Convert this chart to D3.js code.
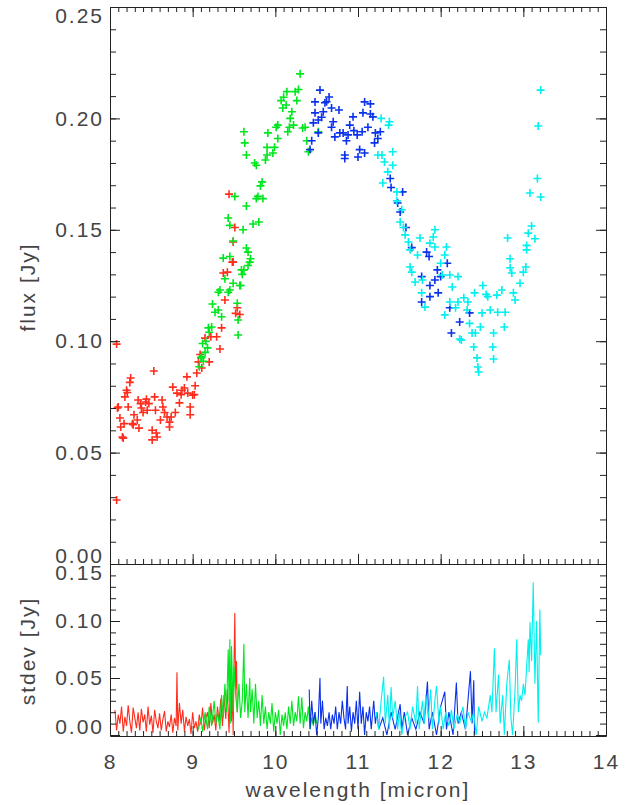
<!DOCTYPE html>
<html>
<head>
<meta charset="utf-8">
<script src="https://cdn.jsdelivr.net/npm/d3@7"></script>
<style>
  body { margin: 0; background: #fff; }
  text { font-family: "Liberation Sans", "DejaVu Sans", sans-serif; fill: #444; }
</style>
</head>
<body>
<div id="chart"></div>
<script>
// flux points, one pair of arrays per colour band
var redWave = [8.08,8.08,8.10,8.09,8.12,8.13,8.15,8.16,8.17,8.20,8.21,8.18,8.22,8.25,8.24,8.27,8.29,8.28,8.34,8.33,
  8.35,8.37,8.38,8.40,8.43,8.45,8.47,8.44,8.51,8.51,8.53,8.54,8.55,8.56,8.57,8.61,8.63,8.64,8.66,8.69,
  8.72,8.72,8.74,8.76,8.79,8.81,8.84,8.86,8.87,8.90,8.93,8.94,8.97,8.97,9.00,9.02,9.03,9.05,9.07,9.09,
  9.11,9.15,9.20,9.22,9.29,9.35,9.37,9.39,9.42,9.44,9.48,9.49,9.49,9.51,9.54,9.57,9.52,9.33];
var redFlux = [0.0987,0.0287,0.0705,0.070,0.0655,0.0615,0.057,0.0565,0.063,0.078,0.077,0.075,0.0705,0.0835,0.0815,0.063,0.067,0.0625,0.0736,0.0646,
  0.061,0.072,0.070,0.068,0.0727,0.069,0.072,0.074,0.060,0.0557,0.0866,0.075,0.069,0.0588,0.057,0.0646,0.0736,0.0705,0.068,0.066,
  0.0637,0.0615,0.066,0.0794,0.068,0.0767,0.0723,0.076,0.078,0.079,0.084,0.0767,0.0705,0.067,0.0758,0.076,0.080,0.0857,0.0907,0.094,
  0.088,0.1014,0.0907,0.102,0.102,0.106,0.1306,0.1185,0.131,0.166,0.1355,0.1445,0.1355,0.151,0.115,0.112,0.1125,0.0965];

var greenWave = [9.11,9.15,9.10,9.18,9.12,9.19,9.23,9.27,9.31,9.35,9.24,9.33,9.39,9.45,9.37,9.54,9.55,9.55,9.57,9.59,
  9.67,9.69,9.45,9.31,9.43,9.49,9.58,9.60,9.62,9.67,9.70,9.65,9.49,9.61,9.73,9.80,9.43,9.45,9.65,9.51,
  9.79,9.77,9.85,9.84,9.82,9.62,9.63,9.65,9.75,9.77,9.88,9.90,9.90,9.99,9.97,9.91,10.03,10.01,10.03,10.14,
  10.10,10.07,10.09,10.13,10.30,10.24,10.26,10.20,10.18,10.15,10.17,10.22,10.36,10.33,10.38,10.40,10.52,10.28,9.08,9.13,
  9.16,9.20];
var greenFlux = [0.093,0.095,0.0925,0.097,0.099,0.106,0.1064,0.113,0.114,0.111,0.1167,0.123,0.128,0.138,0.1373,0.117,0.1095,0.1028,0.125,0.132,
  0.140,0.1355,0.123,0.122,0.122,0.126,0.125,0.130,0.132,0.134,0.137,0.1418,0.145,0.150,0.1526,0.1535,0.1553,0.152,0.1607,0.165,
  0.165,0.164,0.164,0.1715,0.1697,0.194,0.189,0.1836,0.180,0.179,0.1813,0.187,0.1836,0.187,0.1845,0.1935,0.197,0.196,0.191,0.212,
  0.2095,0.208,0.2047,0.206,0.220,0.212,0.208,0.203,0.200,0.194,0.196,0.197,0.196,0.1957,0.190,0.185,0.194,0.213,0.0885,0.091,
  0.100,0.104];

var blueWave = [10.54,10.65,10.48,10.60,10.62,10.68,10.77,10.58,10.48,10.52,10.46,10.44,10.42,10.52,10.68,10.72,10.78,10.82,10.88,10.90,
  10.94,10.86,10.99,11.05,11.08,11.15,11.06,11.15,11.12,11.18,11.21,11.27,11.24,11.20,11.02,11.08,10.84,10.84,11.00,10.56,
  10.70,10.95,11.39,11.54,11.51,11.58,11.65,11.86,11.83,11.96,12.08,11.93,11.77,11.87,11.97,11.87,11.77,12.11,12.35,12.23,
  12.13,12.00,11.40,11.48];
var blueFlux = [0.2127,0.2096,0.2074,0.207,0.2075,0.2047,0.2038,0.203,0.2025,0.1993,0.198,0.190,0.186,0.1935,0.196,0.1917,0.1935,0.1935,0.1926,0.197,
  0.2007,0.190,0.1926,0.194,0.2074,0.2065,0.2025,0.202,0.196,0.2007,0.1935,0.194,0.191,0.189,0.186,0.1845,0.1836,0.182,0.1827,0.2005,
  0.1985,0.1945,0.173,0.167,0.158,0.151,0.142,0.138,0.140,0.132,0.135,0.1275,0.129,0.125,0.1217,0.120,0.1176,0.115,0.1127,0.1086,
  0.1037,0.129,0.169,0.162];

var cyanWave = [11.24,11.28,11.37,11.38,11.42,11.29,11.32,11.42,11.36,11.30,11.47,11.47,11.53,11.51,11.55,11.57,11.61,11.63,11.75,11.93,
  11.91,11.87,11.93,12.07,12.05,12.00,11.72,11.63,11.65,11.69,11.78,12.02,12.11,12.21,12.14,11.77,11.81,12.11,12.21,12.33,
  12.18,12.32,12.05,12.35,12.42,12.23,12.40,12.44,12.45,12.46,12.63,12.64,12.64,12.77,12.50,12.60,12.69,12.78,12.51,12.41,
  12.57,12.68,12.74,12.88,12.90,12.96,13.00,12.86,12.84,12.84,13.03,13.04,13.04,13.14,13.06,13.10,12.81,13.08,13.17,13.21,
  13.21,13.18,12.48,12.38,12.25,12.28,12.55];
var cyanFlux = [0.1836,0.200,0.197,0.1985,0.185,0.1836,0.1804,0.179,0.176,0.171,0.167,0.163,0.159,0.1535,0.151,0.1477,0.1445,0.141,0.1463,0.150,
  0.1468,0.144,0.1423,0.1423,0.1387,0.135,0.1387,0.1333,0.131,0.1266,0.1275,0.1297,0.1297,0.129,0.1243,0.1217,0.1153,0.1176,0.1176,0.1176,
  0.115,0.114,0.1118,0.108,0.1037,0.101,0.0974,0.0925,0.0884,0.0862,0.0974,0.092,0.1037,0.1064,0.1127,0.114,0.113,0.113,0.125,0.1217,
  0.120,0.1207,0.123,0.1217,0.1185,0.126,0.131,0.1306,0.133,0.137,0.1333,0.141,0.143,0.146,0.1485,0.1517,0.1463,0.1665,0.173,0.1647,
  0.2127,0.1966,0.1064,0.1037,0.1005,0.1195,0.121];

// stdev traces
var redSdWave = [8.06,8.08,8.10,8.12,8.14,8.16,8.18,8.20,8.22,8.24,8.26,8.28,8.30,8.32,8.34,8.36,8.38,8.40,8.42,8.44,
  8.46,8.48,8.50,8.52,8.54,8.56,8.58,8.60,8.62,8.64,8.66,8.68,8.70,8.72,8.74,8.76,8.78,8.80,8.81,8.82,
  8.84,8.86,8.88,8.90,8.92,8.94,8.96,8.98,9.00,9.02,9.04,9.06,9.08,9.10,9.12,9.14,9.16,9.18,9.20,9.22,
  9.24,9.26,9.28,9.30,9.32,9.34,9.36,9.38,9.40,9.42,9.44,9.45,9.46,9.47,9.48,9.49,9.50,9.51,9.52,9.53,9.54];
var redSdVal = [0.022,0.004,0.018,0.010,0.025,0.003,0.016,0.008,0.026,0.012,0.002,0.024,0.015,0.006,0.020,0.004,0.023,0.011,0.018,0.003,
  0.025,0.009,0.017,0.002,0.022,0.012,0.006,0.019,0.004,0.014,0.021,0.003,0.012,0.007,0.018,0.002,0.015,0.008,0.055,0.004,
  0.028,0.010,0.022,0.003,0.016,0.008,0.014,0.001,0.020,0.006,0.012,0.003,0.018,0.009,0.024,0.004,0.015,0.020,0.006,0.028,
  0.010,0.018,0.004,0.025,0.012,0.032,0.008,0.035,0.014,0.040,0.002,0.030,0.058,0.012,0.045,0.000,0.062,0.107,0.040,0.065,0.020];

var greenSdWave = [9.07,9.10,9.12,9.15,9.18,9.20,9.23,9.26,9.28,9.30,9.33,9.35,9.37,9.39,9.41,9.43,9.44,9.45,9.46,9.47,
  9.49,9.50,9.52,9.54,9.56,9.58,9.60,9.62,9.63,9.65,9.67,9.69,9.70,9.72,9.74,9.76,9.78,9.80,9.82,9.84,
  9.86,9.88,9.90,9.92,9.94,9.96,9.98,10.00,10.02,10.04,10.06,10.08,10.10,10.12,10.14,10.16,10.18,10.20,10.22,10.24,
  10.26,10.28,10.30,10.32,10.34,10.36,10.38,10.40,10.42,10.44,10.46,10.48,10.50];
var greenSdVal = [0.005,0.015,0.003,0.020,0.005,0.025,0.008,0.030,0.010,0.020,0.005,0.035,0.015,0.045,0.020,0.075,0.030,0.084,0.010,0.078,
  0.020,0.060,0.035,0.020,0.045,0.015,0.030,0.080,0.020,0.045,0.015,0.050,0.020,0.040,0.010,0.045,0.015,0.030,0.008,0.035,
  0.010,0.025,0.005,0.020,0.010,0.028,0.003,0.020,0.010,0.022,0.000,0.018,0.008,0.020,0.005,0.025,0.010,0.030,0.008,0.020,
  0.012,0.034,0.010,0.033,0.006,0.020,0.012,0.025,0.005,0.015,0.008,0.020,0.010];

var blueSdWave = [10.41,10.42,10.44,10.46,10.48,10.50,10.52,10.54,10.55,10.57,10.59,10.61,10.63,10.65,10.67,10.69,10.71,10.73,10.75,10.77,
  10.79,10.81,10.83,10.85,10.87,10.88,10.90,10.92,10.94,10.96,10.98,11.00,11.02,11.04,11.06,11.08,11.10,11.12,11.14,11.16,
  11.19,11.21,11.23,11.25,11.30,11.35,11.40,11.45,11.51,11.53,11.56,11.60,11.65,11.70,11.75,11.80,11.84,11.86,11.90,11.95,
  12.00,12.05,12.07,12.10,12.15,12.19,12.21,12.25,12.30,12.33,12.36,12.38,12.40,12.41];
var blueSdVal = [0.040,0.005,0.030,0.010,0.020,0.000,0.015,0.050,0.010,0.030,0.005,0.015,0.008,0.020,0.005,0.018,0.010,0.025,0.005,0.020,
  0.010,0.030,0.015,0.005,0.043,0.010,0.025,0.003,0.020,0.010,0.030,0.005,0.038,0.010,0.025,0.000,0.020,0.012,0.025,0.005,
  0.030,0.010,0.020,0.005,0.015,0.000,0.020,0.005,0.027,0.005,0.020,0.000,0.015,0.005,0.020,0.010,0.047,0.005,0.020,0.000,
  0.025,0.038,0.005,0.020,0.000,0.046,0.010,0.020,0.005,0.030,0.056,0.010,0.048,0.000];

var cyanSdWave = [11.22,11.25,11.28,11.31,11.33,11.36,11.38,11.40,11.42,11.45,11.48,11.50,11.53,11.56,11.60,11.63,11.66,11.70,11.72,11.74,
  11.78,11.80,11.82,11.85,11.88,11.90,11.93,11.95,11.98,12.00,12.03,12.06,12.10,12.13,12.16,12.20,12.23,12.27,12.30,12.33,
  12.37,12.40,12.43,12.46,12.50,12.53,12.56,12.60,12.62,12.65,12.67,12.70,12.72,12.75,12.77,12.80,12.83,12.85,12.87,12.90,
  12.92,12.94,12.96,12.98,13.00,13.02,13.04,13.06,13.07,13.08,13.10,13.12,13.14,13.16,13.18,13.20,13.21];
var cyanSdVal = [0.020,0.005,0.030,0.051,0.010,0.035,0.005,0.042,0.015,0.030,0.005,0.020,0.000,0.015,0.020,0.005,0.025,0.010,0.043,0.005,
  0.030,0.010,0.035,0.015,0.040,0.005,0.030,0.043,0.010,0.025,0.005,0.020,0.008,0.022,0.005,0.018,0.010,0.025,0.005,0.020,
  0.012,0.020,0.000,0.025,0.012,0.020,0.015,0.035,0.020,0.076,0.020,0.053,0.010,0.035,0.000,0.045,0.066,0.015,0.000,0.040,
  0.084,0.020,0.035,0.030,0.045,0.035,0.060,0.084,0.055,0.099,0.065,0.134,0.045,0.100,0.011,0.110,0.070];

var xTicks = [8, 9, 10, 11, 12, 13, 14];
var fluxTicks = [0, 0.05, 0.10, 0.15, 0.20, 0.25];
var sdTicks = [0, 0.05, 0.10, 0.15];

var series = [
  { color: "#ff2d1e", wave: redWave, flux: redFlux, sdWave: redSdWave, sd: redSdVal },
  { color: "#00e61e", wave: greenWave, flux: greenFlux, sdWave: greenSdWave, sd: greenSdVal },
  { color: "#0a32eb", wave: blueWave, flux: blueFlux, sdWave: blueSdWave, sd: blueSdVal },
  { color: "#00f0f0", wave: cyanWave, flux: cyanFlux, sdWave: cyanSdWave, sd: cyanSdVal }
];

var W = 641, H = 805;
var left = 110, right = 606, top1 = 7, bot1 = 564, bot2 = 735;

var x = d3.scaleLinear().domain([8, 14]).range([left, right]);
var yFlux = d3.scaleLinear().domain([0, 0.25]).range([bot1, top1]);
var ySd = d3.scaleLinear().domain([0, 0.15]).range([bot2, bot1]);

var svg = d3.select("#chart").append("svg")
  .attr("width", W)
  .attr("height", H);

svg.append("clipPath").attr("id", "clip-top")
  .append("rect").attr("x", left).attr("y", top1).attr("width", right - left).attr("height", bot1 - top1);
svg.append("clipPath").attr("id", "clip-bot")
  .append("rect").attr("x", left).attr("y", bot1).attr("width", right - left).attr("height", bot2 - bot1 + 1);

// plus markers
var plus = "M-4,0H4M0,-4V4";
series.forEach(function(s){
  svg.append("g")
    .attr("clip-path", "url(#clip-top)")
    .selectAll("path")
    .data(s.wave.map(function(w, i){ return { w: w, f: s.flux[i] }; }))
    .enter().append("path")
      .attr("d", plus)
      .attr("transform", function(d){ return "translate(" + x(d.w) + "," + yFlux(d.f) + ")"; })
      .style("stroke", s.color)
      .style("stroke-width", 1.6)
      .style("fill", "none");
});

// stdev lines
var line = d3.line()
  .x(function(d){ return x(d.w); })
  .y(function(d){ return ySd(d.v); });

series.forEach(function(s){
  svg.append("path")
    .datum(s.sdWave.map(function(w, i){ return { w: w, v: s.sd[i] }; }))
    .attr("clip-path", "url(#clip-bot)")
    .attr("d", line)
    .style("fill", "none")
    .style("stroke", s.color)
    .style("stroke-width", 1.1);
});

// axes, ticks pointing inward like the original
function styleAxis(g){
  g.selectAll("path, line").style("stroke", "#222").style("stroke-width", 1);
  g.selectAll("text")
    .style("font-size", "21px")
    .style("letter-spacing", "2px")
    .style("fill", "#444")
    .style("font-family", "'Liberation Sans', sans-serif");
}

function xAxisAt(y, dir, labels){
  var major = (dir === "up" ? d3.axisBottom(x) : d3.axisTop(x))
    .tickValues(xTicks).tickSizeInner(-10).tickSizeOuter(0).tickPadding(18)
    .tickFormat(labels ? d3.format("d") : "");
  var minor = (dir === "up" ? d3.axisBottom(x) : d3.axisTop(x))
    .tickValues(d3.range(8, 14.001, 0.1)).tickSizeInner(-5).tickSizeOuter(0).tickFormat("");
  svg.append("g").attr("transform", "translate(0," + y + ")").call(minor).call(styleAxis);
  svg.append("g").attr("transform", "translate(0," + y + ")").call(major).call(styleAxis);
}

function yAxisAt(scale, ticks, step, xPos, side, labels, yTop, yBot){
  var major = (side === "left" ? d3.axisLeft(scale) : d3.axisRight(scale))
    .tickValues(ticks).tickSizeInner(-10).tickSizeOuter(0).tickPadding(6)
    .tickFormat(labels ? d3.format(".2f") : "");
  var minor = (side === "left" ? d3.axisLeft(scale) : d3.axisRight(scale))
    .tickValues(d3.range(scale.domain()[0], scale.domain()[1] + 1e-6, step)).tickSizeInner(-6).tickSizeOuter(0).tickFormat("");
  svg.append("g").attr("transform", "translate(" + xPos + ",0)").call(minor).call(styleAxis);
  var g = svg.append("g").attr("transform", "translate(" + xPos + ",0)").call(major).call(styleAxis);
  // keep end labels inside the panel
  g.selectAll(".tick text").attr("y", function(d){
    var ty = scale(d);
    var cy = Math.max(yTop + 9, Math.min(yBot - 8, ty));
    return cy - ty;
  });
}

xAxisAt(bot1, "up", false);
xAxisAt(top1, "down", false);
xAxisAt(bot2 + 1, "up", true);

yAxisAt(yFlux, fluxTicks, 0.01, left, "left", true, top1, bot1);
yAxisAt(yFlux, fluxTicks, 0.01, right, "right", false, top1, bot1);
yAxisAt(ySd, sdTicks, 0.01, left, "left", true, bot1, bot2);
yAxisAt(ySd, sdTicks, 0.01, right, "right", false, bot1, bot2);

// axis titles
var titleStyle = function(t){
  t.style("font-size", "21px").style("letter-spacing", "2px").style("fill", "#444")
   .attr("text-anchor", "middle");
};
svg.append("text")
  .attr("x", 358).attr("y", 797)
  .text("wavelength [micron]")
  .call(titleStyle);
svg.append("text")
  .attr("transform", "translate(35,287) rotate(-90)")
  .text("flux [Jy]")
  .call(titleStyle);
svg.append("text")
  .attr("transform", "translate(35,651) rotate(-90)")
  .text("stdev [Jy]")
  .call(titleStyle);
</script>
</body>
</html>
